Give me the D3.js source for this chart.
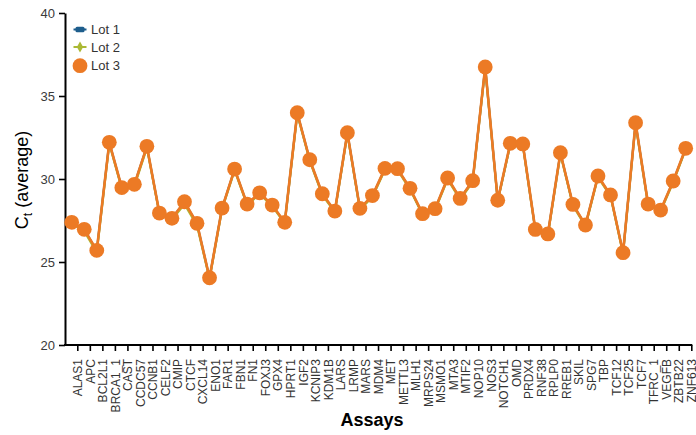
<!DOCTYPE html>
<html>
<head>
<meta charset="utf-8">
<script src="https://cdn.jsdelivr.net/npm/d3@7"></script>
<style>
  html, body { margin: 0; padding: 0; background: #fff; }
  svg { display: block; font-family: "Liberation Sans", Arial, Helvetica, sans-serif; }
</style>
</head>
<body>
<svg id="chart" width="696" height="435"></svg>
<script>
// Assays on the x axis
const assays = ["ALAS1","APC","BCL2L1","BRCA1_1","CAST","CCDC57","CCNB1","CELF2","CMIP","CTCF",
  "CXCL14","ENO1","FAR1","FBN1","FN1","FOXJ3","GPX4","HPRT1","IGF2","KCNIP3",
  "KDM1B","LARS","LRMP","MARS","MDM4","MET","METTL3","MLH1","MRPS24","MSMO1",
  "MTA3","MTIF2","NOP10","NOS3","NOTCH1","OMD","PRDX4","RNF38","RPLP0","RREB1",
  "SKIL","SPG7","TBP","TCF12","TCF25","TCF7","TFRC_1","VEGFB","ZBTB22","ZNF613"];

// Average Ct per assay for each lot
const lot1 = [27.38, 26.95, 25.68, 32.20, 29.46, 29.66, 31.95, 27.94, 27.62, 28.60,
  27.31, 24.04, 28.24, 30.58, 28.47, 29.15, 28.41, 27.37, 33.97, 31.14,
  29.09, 28.05, 32.77, 28.21, 28.98, 30.62, 30.60, 29.42, 27.89, 28.19,
  30.04, 28.81, 29.88, 36.73, 28.70, 32.10, 32.09, 26.94, 26.67, 31.56,
  28.45, 27.21, 30.16, 29.02, 25.55, 33.37, 28.47, 28.11, 29.86, 31.83];
const lot2 = [27.33, 26.86, 25.58, 32.12, 29.40, 29.56, 31.88, 27.90, 27.56, 28.48,
  27.20, 23.98, 28.18, 30.52, 28.42, 29.10, 28.36, 27.33, 33.90, 31.08,
  29.03, 28.00, 32.70, 28.15, 28.92, 30.56, 30.55, 29.36, 27.84, 28.13,
  29.98, 28.76, 29.82, 36.66, 28.66, 32.06, 32.04, 26.90, 26.62, 31.50,
  28.40, 27.16, 30.10, 28.97, 25.50, 33.30, 28.42, 28.06, 29.80, 31.78];
const lot3 = [27.39, 26.97, 25.70, 32.21, 29.48, 29.68, 31.97, 27.95, 27.63, 28.63,
  27.33, 24.05, 28.25, 30.60, 28.49, 29.17, 28.43, 27.39, 33.99, 31.16,
  29.11, 28.07, 32.79, 28.23, 29.00, 30.64, 30.62, 29.44, 27.91, 28.21,
  30.06, 28.83, 29.90, 36.75, 28.72, 32.15, 32.11, 26.96, 26.69, 31.58,
  28.47, 27.23, 30.18, 29.04, 25.56, 33.39, 28.49, 28.13, 29.88, 31.85];

const yTicks = [20, 25, 30, 35, 40];
const lotNames = ["Lot 1", "Lot 2", "Lot 3"];
const lotColors = ["#1d5d8c", "#abb935", "#ec7a25"];

const svg = d3.select("#chart");

const x = d3.scalePoint().domain(assays).range([71.7, 685.7]);
const y = d3.scaleLinear().domain([20, 40]).range([345, 13]);

const axisX0 = 65;
const tickShift = 5.6;

// Y axis
const gy = svg.append("g")
  .attr("transform", `translate(${axisX0},0)`)
  .call(d3.axisLeft(y).tickValues(yTicks).tickSize(6).tickPadding(4).tickSizeOuter(0));
gy.select(".domain").attr("stroke", "#000").attr("stroke-width", 2);
gy.selectAll(".tick line").attr("stroke", "#000").attr("stroke-width", 1.6);
gy.selectAll(".tick text").attr("fill", "#3a3a3a").style("font-size", "13px")
  .style("font-family", "'Liberation Sans', Arial, sans-serif");

// X axis
const gx = svg.append("g")
  .attr("transform", `translate(${tickShift},345)`)
  .call(d3.axisBottom(x).tickSize(6).tickSizeOuter(0));
gx.select(".domain").remove();
gx.selectAll(".tick line").attr("stroke", "#000").attr("stroke-width", 1.6);
gx.selectAll(".tick text")
  .attr("fill", "#333")
  .style("font-size", "12px")
  .style("font-family", "'Liberation Sans', Arial, sans-serif")
  .attr("transform", "rotate(-90)")
  .attr("x", -14)
  .attr("y", 0)
  .attr("dy", "0.35em")
  .style("text-anchor", "end");
svg.append("line")
  .attr("x1", axisX0 - 1).attr("x2", x(assays[assays.length - 1]) + tickShift + 1)
  .attr("y1", 345).attr("y2", 345)
  .attr("stroke", "#000").attr("stroke-width", 2);

// Series lines and markers
const lots = [lot1, lot2, lot3];
const line = d3.line().x((d, i) => x(assays[i])).y(d => y(d));

lots.forEach((vals, k) => {
  svg.append("path")
    .datum(vals)
    .attr("fill", "none")
    .attr("stroke", lotColors[k])
    .attr("stroke-width", k === 2 ? 2.6 : 2.2)
    .attr("stroke-linejoin", "round")
    .attr("d", line);
});

// Lot 1 markers: small bars
svg.append("g").selectAll("rect").data(lot1).join("rect")
  .attr("x", (d, i) => x(assays[i]) - 4.5).attr("y", d => y(d) - 2.5)
  .attr("width", 9).attr("height", 5).attr("rx", 1.5)
  .attr("fill", lotColors[0]);
// Lot 2 markers: small diamonds
svg.append("g").selectAll("path").data(lot2).join("path")
  .attr("transform", (d, i) => `translate(${x(assays[i])},${y(d)})`)
  .attr("d", d3.symbol(d3.symbolDiamond, 30))
  .attr("fill", lotColors[1]);
// Lot 3 markers: circles
svg.append("g").selectAll("circle").data(lot3).join("circle")
  .attr("cx", (d, i) => x(assays[i])).attr("cy", d => y(d))
  .attr("r", 7.4)
  .attr("fill", lotColors[2]);

// Legend
const legend = svg.append("g").attr("transform", "translate(80,0)");
const legendY = [29.5, 47, 65.7];
lotNames.forEach((name, k) => {
  const g = legend.append("g").attr("transform", `translate(0,${legendY[k]})`);
  if (k === 0) {
    g.append("line").attr("x1", -6.5).attr("x2", 6.5).attr("stroke", lotColors[0]).attr("stroke-width", 2);
    g.append("rect").attr("x", -4.5).attr("y", -2.7).attr("width", 9).attr("height", 5.4).attr("rx", 1.5).attr("fill", lotColors[0]);
  } else if (k === 1) {
    g.append("line").attr("x1", -6.5).attr("x2", 6.5).attr("stroke", lotColors[1]).attr("stroke-width", 2);
    g.append("path").attr("d", d3.symbol(d3.symbolDiamond, 34)).attr("fill", lotColors[1]);
  } else {
    g.append("circle").attr("r", 7.4).attr("fill", lotColors[2]);
  }
  g.append("text")
    .attr("x", 11).attr("dy", "0.36em")
    .attr("fill", "#333")
    .style("font-size", "13px")
    .text(name);
});

// Axis titles
const yTitle = svg.append("text")
  .attr("transform", "translate(28,180) rotate(-90)")
  .attr("text-anchor", "middle")
  .attr("fill", "#000")
  .style("font-size", "18px");
yTitle.append("tspan").text("C");
yTitle.append("tspan").attr("dy", 4).style("font-size", "12px").text("t");
yTitle.append("tspan").attr("dy", -4).text(" (average)");

svg.append("text")
  .attr("x", 372).attr("y", 426)
  .attr("text-anchor", "middle")
  .attr("fill", "#000")
  .style("font-size", "18px")
  .style("font-weight", "bold")
  .text("Assays");
</script>
</body>
</html>
